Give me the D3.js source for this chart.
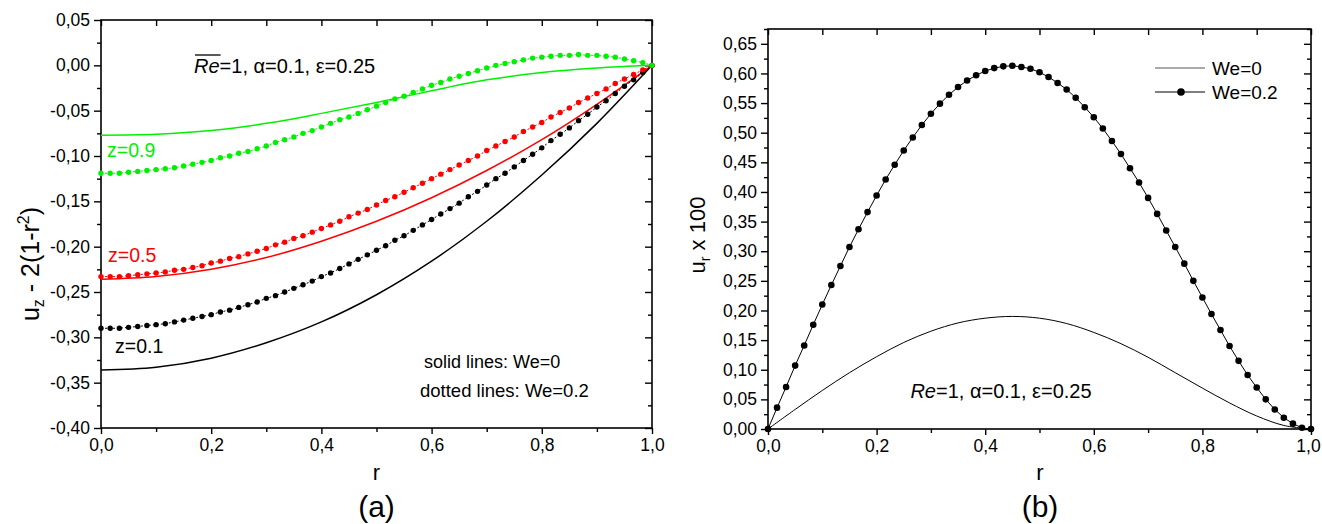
<!DOCTYPE html>
<html><head><meta charset="utf-8">
<script src="https://cdn.jsdelivr.net/npm/d3@7"></script>
<style>
body{margin:0;background:#fff}
svg{display:block}
text{font-family:"Liberation Sans",Arial,Helvetica,sans-serif}
</style>
</head><body>
<script>
// ---------- DATA ----------
// radial positions of the dotted (We=0.2) samples: 61 points, step 1/60
const rDots = d3.range(61).map(i => i / 60);
// radial positions of solid-line samples in panel (a)
const rSolidA = [0, 0.1, 0.2, 0.3, 0.4, 0.5, 0.6, 0.7, 0.8, 0.9, 1.0];
// radial positions of solid-line samples in panel (b)
const rSolidB = [0, 0.05, 0.1, 0.15, 0.2, 0.25, 0.3, 0.35, 0.4, 0.45, 0.5, 0.55, 0.6, 0.65, 0.7, 0.75, 0.8, 0.85, 0.9, 0.95, 1.0];

// Panel (a): u_z - 2(1-r^2), We = 0 (solid)
const aSolidZ01 = [-0.336, -0.333, -0.323, -0.306, -0.283, -0.253, -0.216, -0.172, -0.121, -0.064, 0];
const aSolidZ05 = [-0.236, -0.233, -0.225, -0.212, -0.194, -0.172, -0.146, -0.116, -0.082, -0.043, 0];
const aSolidZ09 = [-0.077, -0.076, -0.072, -0.064, -0.053, -0.041, -0.028, -0.016, -0.008, -0.003, 0];

// Panel (a): We = 0.2 (dotted)
const aDotZ01 = [-0.290,-0.290,-0.290,-0.289,-0.288,-0.287,-0.286,-0.285,-0.283,-0.281,
  -0.279,-0.277,-0.275,-0.272,-0.270,-0.267,-0.264,-0.261,-0.257,-0.254,
  -0.250,-0.246,-0.242,-0.238,-0.233,-0.229,-0.224,-0.219,-0.214,-0.209,
  -0.204,-0.199,-0.193,-0.188,-0.182,-0.176,-0.170,-0.164,-0.158,-0.152,
  -0.145,-0.139,-0.132,-0.125,-0.119,-0.112,-0.105,-0.098,-0.091,-0.083,
  -0.076,-0.069,-0.061,-0.054,-0.046,-0.039,-0.031,-0.023,-0.016,-0.008,0];
const aDotZ05 = [-0.233,-0.233,-0.233,-0.232,-0.231,-0.230,-0.229,-0.228,-0.226,-0.225,
  -0.223,-0.221,-0.218,-0.216,-0.213,-0.211,-0.208,-0.205,-0.202,-0.198,
  -0.195,-0.191,-0.188,-0.184,-0.180,-0.176,-0.172,-0.167,-0.163,-0.159,
  -0.154,-0.149,-0.145,-0.140,-0.135,-0.130,-0.125,-0.120,-0.115,-0.110,
  -0.105,-0.100,-0.094,-0.089,-0.084,-0.079,-0.073,-0.068,-0.063,-0.057,
  -0.052,-0.047,-0.041,-0.036,-0.031,-0.026,-0.020,-0.015,-0.010,-0.005,0];
const aDotZ09 = [-0.119,-0.119,-0.119,-0.118,-0.117,-0.116,-0.115,-0.114,-0.113,-0.111,
  -0.109,-0.107,-0.105,-0.102,-0.100,-0.097,-0.095,-0.092,-0.089,-0.085,
  -0.082,-0.079,-0.075,-0.072,-0.068,-0.064,-0.060,-0.057,-0.053,-0.049,
  -0.045,-0.041,-0.037,-0.034,-0.030,-0.026,-0.022,-0.019,-0.015,-0.012,
  -0.009,-0.006,-0.003,0.000,0.002,0.004,0.006,0.008,0.009,0.010,
  0.011,0.011,0.012,0.011,0.011,0.010,0.009,0.007,0.005,0.003,0];

// Panel (b): u_r x 100
const bSolidWe0 = [0,0.033,0.065,0.095,0.122,0.146,0.165,0.179,0.187,0.190,0.187,0.178,0.163,0.144,0.121,0.095,0.069,0.044,0.022,0.006,0];
const bDotWe02 = [0,0.036,0.071,0.107,0.141,0.176,0.210,0.243,0.275,0.307,
  0.337,0.366,0.394,0.421,0.446,0.470,0.492,0.513,0.532,0.549,
  0.564,0.577,0.588,0.597,0.604,0.609,0.612,0.613,0.611,0.608,
  0.602,0.594,0.584,0.573,0.559,0.543,0.526,0.507,0.486,0.464,
  0.440,0.416,0.390,0.363,0.335,0.307,0.279,0.250,0.222,0.194,
  0.167,0.140,0.115,0.091,0.070,0.050,0.033,0.019,0.009,0.002,0];

// tick labels
const xTicks = [0, 0.2, 0.4, 0.6, 0.8, 1.0];
const aYTicks = [-0.40,-0.35,-0.30,-0.25,-0.20,-0.15,-0.10,-0.05,0.00,0.05];
const bYTicks = [0.00,0.05,0.10,0.15,0.20,0.25,0.30,0.35,0.40,0.45,0.50,0.55,0.60,0.65];

// ---------- DRAWING ----------
const W = 1322, H = 524;
const GREEN = "#00f000", RED = "#ff0000", BLACK = "#000000";
const TICKFONT = 17.5;
const svg = d3.select("body").append("svg").attr("width", W).attr("height", H);

const fmt1 = d => d.toFixed(1).replace(".", ",");
const fmt2 = d => (d < -1e-9 ? "-" : "") + Math.abs(d).toFixed(2).replace(".", ",");

function mids(arr) {
  const out = [];
  for (let i = 0; i < arr.length - 1; i++) out.push((arr[i] + arr[i + 1]) / 2);
  return out;
}

function drawFrame(x, y, yTicks, lastLabelShift) {
  const [x0, x1] = x.range();
  const [y0, y1] = y.range();
  const g = svg.append("g");
  const xMinor = mids(xTicks);
  const yMinor = mids(yTicks);
  const top = y.domain()[1];
  if (top > yTicks[yTicks.length - 1] + 1e-9) yMinor.push(yTicks[yTicks.length - 1] + (yTicks[1] - yTicks[0]) / 2);

  const ax = (axis, tx, ty) => {
    const a = g.append("g").attr("transform", `translate(${tx},${ty})`).call(axis);
    a.select(".domain").remove();
    a.selectAll("line").attr("stroke", "#000").attr("stroke-width", 1.4);
    return a;
  };
  const bx = ax(d3.axisBottom(x).tickValues(xTicks).tickSize(6).tickPadding(5).tickFormat(fmt1), 0, y0);
  bx.selectAll("text").attr("font-size", TICKFONT).attr("fill", "#000")
    .attr("font-family", '"Liberation Sans",Arial,sans-serif')
    .attr("dx", (d, i, n) => i === n.length - 1 ? -(lastLabelShift || 0) : 0);
  ax(d3.axisBottom(x).tickValues(xMinor).tickSize(4).tickFormat(""), 0, y0);
  ax(d3.axisTop(x).tickValues(xTicks).tickSize(-6).tickFormat(""), 0, y1);
  ax(d3.axisTop(x).tickValues(xMinor).tickSize(-6).tickFormat(""), 0, y1);
  const ly = ax(d3.axisLeft(y).tickValues(yTicks).tickSize(7).tickPadding(4).tickFormat(fmt2), x0, 0);
  ly.selectAll("text").attr("font-size", TICKFONT).attr("fill", "#000")
    .attr("font-family", '"Liberation Sans",Arial,sans-serif');
  ax(d3.axisLeft(y).tickValues(yMinor).tickSize(4).tickFormat(""), x0, 0);
  ax(d3.axisRight(y).tickValues(yTicks).tickSize(-7).tickFormat(""), x1, 0);
  ax(d3.axisRight(y).tickValues(yMinor).tickSize(-4).tickFormat(""), x1, 0);

  g.append("rect").attr("x", x0).attr("y", y1).attr("width", x1 - x0).attr("height", y0 - y1)
    .attr("fill", "none").attr("stroke", "#000").attr("stroke-width", 1.6);
}

// ---- Panel (a) ----
const xA = d3.scaleLinear([0, 1], [101, 652]);
const yA = d3.scaleLinear([-0.40, 0.05], [428, 20]);
drawFrame(xA, yA, aYTicks, 0);

const gA = svg.append("g");
const solidLineA = d3.line().x((d, i) => xA(rSolidA[i])).y(d => yA(d)).curve(d3.curveCatmullRom.alpha(0.5));
const dotLineA = d3.line().x((d, i) => xA(rDots[i])).y(d => yA(d));

const seriesA = [
  {solid: aSolidZ01, dots: aDotZ01, color: BLACK},
  {solid: aSolidZ05, dots: aDotZ05, color: RED},
  {solid: aSolidZ09, dots: aDotZ09, color: GREEN}
];
seriesA.forEach(s => {
  gA.append("path").attr("d", solidLineA(s.solid)).attr("fill", "none")
    .attr("stroke", s.color).attr("stroke-width", 1.5);
});
seriesA.forEach(s => {
  gA.append("path").attr("d", dotLineA(s.dots)).attr("fill", "none")
    .attr("stroke", s.color).attr("stroke-width", 1).attr("stroke-dasharray", "2,2");
  gA.selectAll(null).data(s.dots).enter().append("circle")
    .attr("cx", (d, i) => xA(rDots[i])).attr("cy", d => yA(d)).attr("r", 2.7)
    .attr("fill", s.color);
});

const lbl = (x, y, t, size, color, extra) => {
  const e = svg.append("text").attr("x", x).attr("y", y).attr("font-size", size)
    .style("fill", color || "#000").text(t);
  if (extra) extra(e);
  return e;
};
lbl(107, 157, "z=0.9", 19.5, GREEN);
lbl(108, 262, "z=0.5", 19.5, RED);
lbl(115, 353, "z=0.1", 19.5, BLACK);
lbl(424, 368, "solid lines: We=0", 18);
lbl(420, 397, "dotted lines: We=0.2", 18.5);

function paramText(x, y, anchor, overline) {
  const t = svg.append("text").attr("x", x).attr("y", y).attr("font-size", 20)
    .attr("text-anchor", anchor).style("fill", "#000");
  t.append("tspan").attr("font-style", "italic").text("Re");
  t.append("tspan").text("=1, α=0.1, ε=0.25");
  if (overline) {
    const node = t.node();
    const bb = node.getBBox();
    const reLen = node.getSubStringLength(0, 2);
    svg.append("line").attr("x1", bb.x + 1).attr("x2", bb.x + reLen + 1)
      .attr("y1", y - 18).attr("y2", y - 18).attr("stroke", "#000").attr("stroke-width", 1.3);
  }
}
paramText(194, 73, "start", true);

lbl(376.5, 480, "r", 22, "#000", e => e.attr("text-anchor", "middle"));
lbl(376.5, 517, "(a)", 30, "#000", e => e.attr("text-anchor", "middle"));
{
  const t = svg.append("text").attr("transform", "translate(39,264) rotate(-90)")
    .attr("text-anchor", "middle").attr("font-size", 25).style("fill", "#000");
  t.append("tspan").text("u");
  t.append("tspan").attr("font-size", 16).attr("dy", 5).text("z");
  t.append("tspan").attr("dy", -5).text(" - 2(1-r");
  t.append("tspan").attr("font-size", 16).attr("dy", -10).text("2");
  t.append("tspan").attr("dy", 10).text(")");
}

// ---- Panel (b) ----
const xB = d3.scaleLinear([0, 1], [768, 1311]);
const yB = d3.scaleLinear([0, 0.675], [429, 29]);
drawFrame(xB, yB, bYTicks, 3);

const gB = svg.append("g");
const solidLineB = d3.line().x((d, i) => xB(rSolidB[i])).y(d => yB(d)).curve(d3.curveCatmullRom.alpha(0.5));
const dotLineB = d3.line().x((d, i) => xB(rDots[i])).y(d => yB(d));
gB.append("path").attr("d", solidLineB(bSolidWe0)).attr("fill", "none").attr("stroke", "#000").attr("stroke-width", 1);
gB.append("path").attr("d", dotLineB(bDotWe02)).attr("fill", "none").attr("stroke", "#000").attr("stroke-width", 1);
gB.selectAll(null).data(bDotWe02).enter().append("circle")
  .attr("cx", (d, i) => xB(rDots[i])).attr("cy", d => yB(d)).attr("r", 3.3).attr("fill", "#000");

svg.append("line").attr("x1", 1155).attr("x2", 1205).attr("y1", 68).attr("y2", 68).attr("stroke", "#555").attr("stroke-width", 1);
lbl(1212, 75, "We=0", 19);
svg.append("line").attr("x1", 1155).attr("x2", 1205).attr("y1", 92).attr("y2", 92).attr("stroke", "#000").attr("stroke-width", 1);
svg.append("circle").attr("cx", 1181).attr("cy", 92).attr("r", 3.8).attr("fill", "#000");
lbl(1212, 99, "We=0.2", 19);

paramText(1001, 398, "middle", false);

lbl(1040, 480, "r", 22, "#000", e => e.attr("text-anchor", "middle"));
lbl(1040, 517, "(b)", 30, "#000", e => e.attr("text-anchor", "middle"));
{
  const t = svg.append("text").attr("transform", "translate(705,235) rotate(-90)")
    .attr("text-anchor", "middle").attr("font-size", 22).style("fill", "#000");
  t.append("tspan").text("u");
  t.append("tspan").attr("font-size", 14).attr("dy", 5).text("r");
  t.append("tspan").attr("dy", -5).text(" x 100");
}
</script>
</body></html>
